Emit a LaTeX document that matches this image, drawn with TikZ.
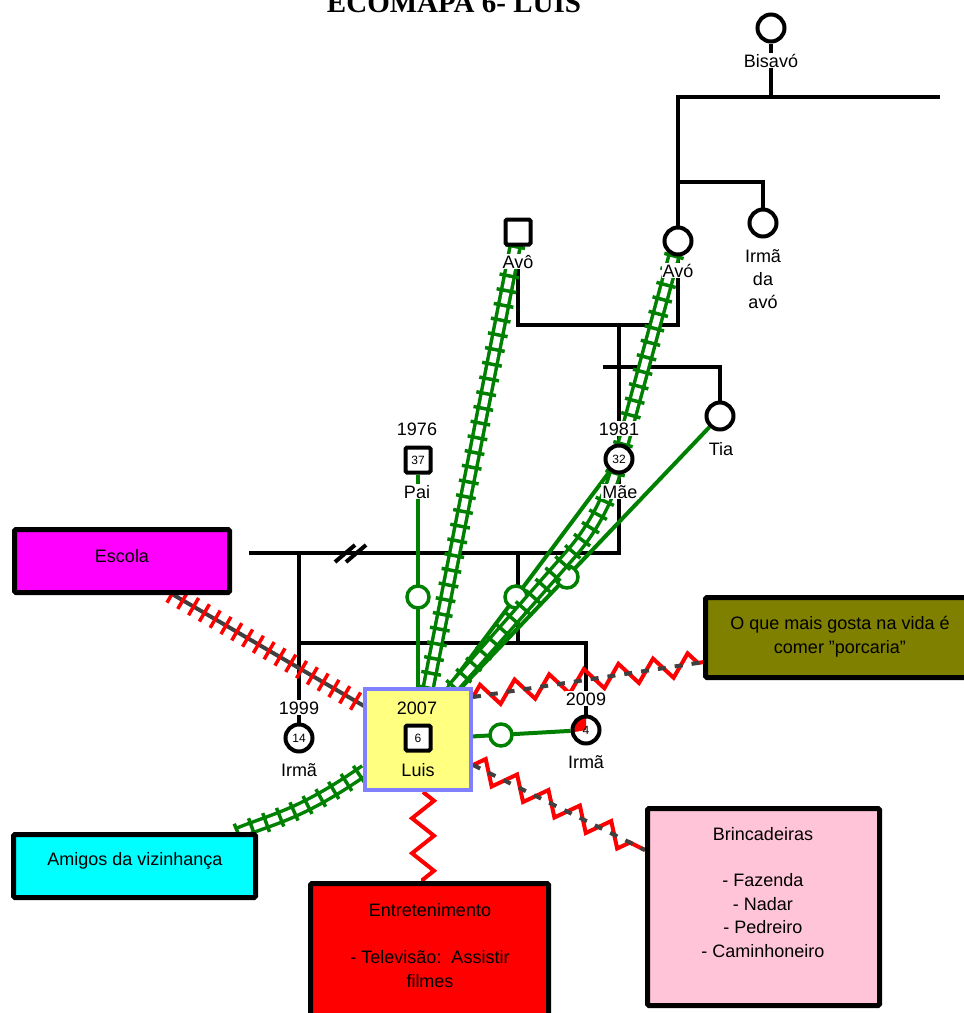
\documentclass[tikz,border=0pt]{standalone}
\usepackage{fontspec}
\setmainfont{Liberation Sans}
\newfontfamily\titlefont{Liberation Serif}
\usetikzlibrary{decorations.pathmorphing,decorations.pathreplacing}
\definecolor{grn}{RGB}{0,128,0}
\definecolor{dgray}{RGB}{64,64,64}
\definecolor{olivebox}{RGB}{128,128,0}
\definecolor{pinkbox}{RGB}{255,196,216}
\definecolor{magentabox}{RGB}{255,0,255}
\definecolor{cyanbox}{RGB}{0,255,255}
\definecolor{redbox}{RGB}{255,0,0}
\definecolor{luisfill}{RGB}{255,255,128}
\definecolor{luisedge}{RGB}{128,128,255}
\pgfdeclarelayer{kinlayer}
\pgfdeclarelayer{bondlayer}
\pgfsetlayers{kinlayer,bondlayer,main}
\begin{document}
\begin{tikzpicture}[x=1pt,y=-1pt,
  lbl/.style={font=\fontsize{18}{23}\selectfont, inner sep=1pt, fill=white, anchor=base, align=center},
  plain/.style={font=\fontsize{18}{23}\selectfont, inner sep=1pt, anchor=base, align=center},
  age/.style={font=\fontsize{12}{14}\selectfont},
  fem/.style={circle, draw, line width=4pt, minimum size=27pt, inner sep=0pt, fill=white, age},
  male/.style={rectangle, draw, line width=4pt, minimum size=25pt, inner sep=0pt, fill=white, rounded corners=1.5pt, age},
  kin/.style={line width=4pt, line join=miter},
  bond/.style={draw=grn, line width=4pt},
  ring/.style={circle, draw=grn, line width=3.5pt, minimum size=22pt, inner sep=0pt, fill=white},
  railway/.style={draw=grn, line width=3.5pt, double=white, double distance=6.5pt,
     postaction={draw=grn, line width=3.5pt, decorate, decoration={ticks, segment length=15pt, amplitude=10pt}}},
  tense/.style={draw=dgray, line width=4pt,
     postaction={draw=red, line width=3.5pt, decorate, decoration={ticks, segment length=12.5pt, amplitude=10pt}}},
  stress/.style={draw=red, line width=4pt, line join=miter, decorate, decoration={zigzag, segment length=35pt, amplitude=11pt}},
  dashline/.style={draw=dgray, line width=4pt, dash pattern=on 8pt off 9pt},
  box/.style={draw, line width=5pt, rounded corners=1.5pt, inner sep=0pt},
  boxtext/.style={font=\fontsize{18}{23.4}\selectfont, anchor=base, align=center, inner sep=0pt},
]
\useasboundingbox (0,0) rectangle (964,1013);

% title
\node[font=\titlefont\bfseries\fontsize{29}{32}\selectfont, anchor=base, inner sep=0pt] (title) at (454,12) {ECOMAPA 6- LUIS};

% ---------- genogram members ----------
\node[fem] (bisavo) at (771,28) {};
\node[male] (avo) at (518,232) {};
\node[fem] (avoa) at (678,241) {};
\node[fem] (irmavo) at (763,223) {};
\node[fem] (tia) at (720,416) {};
\node[male] (pai) at (418,460) {37};
\node[fem] (mae) at (619,459) {32};
\node[fem] (irma1) at (299,738) {14};
\node[fem, fill=white, path picture={\fill[red] (path picture bounding box.center) -- ++(0,-12) arc[start angle=-90, end angle=-190, radius=12] -- cycle;}] (irma2) at (586,730) {4};
\node[draw=luisedge, fill=luisfill, line width=4pt, minimum width=106pt, minimum height=101pt, inner sep=0pt] (luis) at (418,739.5) {};
\node[male] (luisq) at (418,738) {6};

% ---------- ecomap systems ----------
\node[box, fill=magentabox, minimum width=215pt, minimum height=63pt] (escola) at (122,561) {};
\node[box, fill=cyanbox, minimum width=242pt, minimum height=63pt] (amigos) at (134.5,866) {};
\node[box, fill=redbox, minimum width=238pt, minimum height=157pt] (entret) at (429.5,962) {};
\node[box, fill=pinkbox, minimum width=232pt, minimum height=197pt] (brinc) at (763.5,907) {};
\node[box, fill=olivebox, minimum width=275pt, minimum height=80pt] (gosta) at (843,637.5) {};

% multi-line texts are placed by the baseline of their last line
\node[boxtext] (escola-t) at (122,562) {Escola};
\node[boxtext] (amigos-t) at (135,865) {Amigos da vizinhança};
\node[boxtext] (entret-t) at (430,987) {Entretenimento\\[23.4pt]- Televisão:\ \ Assistir\\filmes};
\node[boxtext] (brinc-t) at (763,957) {Brincadeiras\\[23.4pt]- Fazenda\\- Nadar\\- Pedreiro\\- Caminhoneiro};
\node[boxtext] (gosta-t) at (840,653) {O que mais gosta na vida é\\comer "porcaria"};

% ---------- labels ----------
\node[lbl] (bisavo-l) at (771,67) {Bisavó};
\node[lbl] (avo-l) at (518,268) {Avô};
\node[lbl] (avoa-l) at (678,277) {Avó};
\node[lbl] (irmavo-l) at (763,308) {Irmã\\da\\avó};
\node[lbl] (tia-l) at (721,455) {Tia};
\node[lbl] (pai-y) at (417,435) {1976};
\node[lbl] (mae-y) at (619,435) {1981};
\node[lbl] (pai-l) at (417,498) {Pai};
\node[lbl] (mae-l) at (620,498) {Mãe};
\node[lbl] (irma1-y) at (299,714) {1999};
\node[lbl] (irma1-l) at (299,776) {Irmã};
\node[plain] (luis-y) at (417,714) {2007};
\node[plain] (luis-l) at (418,776) {Luis};
\node[lbl] (irma2-y) at (586,705) {2009};
\node[lbl] (irma2-l) at (586,768) {Irmã};

% ---------- family lines ----------
\begin{pgfonlayer}{kinlayer}
  \coordinate (bar-l) at (678,97);
  \coordinate (bar-r) at (940,97);
  \coordinate (bis-j) at (771,97);
  \draw[kin] (bisavo) -- (bis-j);
  \draw[kin] (bar-r) -- (bar-l) -- (avoa);
  \coordinate (sib-l) at (678,182);
  \coordinate (sib-r) at (763,182);
  \draw[kin] (sib-l) -- (sib-r) -- (irmavo);
  \coordinate (cp-l) at (518,325);
  \coordinate (cp-r) at (678,325);
  \draw[kin] (avo) -- (cp-l) -- (cp-r) -- (avoa);
  \coordinate (cp-c) at (619,325);
  \draw[kin] (cp-c) -- (mae);
  \coordinate (ts-l) at (603,367);
  \coordinate (ts-r) at (720,367);
  \draw[kin] (ts-l) -- (ts-r) -- (tia);
  \coordinate (mp-r) at (619,553);
  \coordinate (mp-l) at (249,553);
  \draw[kin] (mae) -- (mp-r) -- (mp-l);
  % separation mark
  \draw[kin] (335,562) -- (355,545) (346,562) -- (366,545);
  \coordinate (h1) at (299,553);
  \draw[kin] (h1) -- (irma1);
  \coordinate (k-top) at (518,553);
  \coordinate (k-mid) at (518,643);
  \draw[kin] (k-top) -- (k-mid);
  \coordinate (sl) at (299,643);
  \coordinate (sr) at (586,643);
  \draw[kin] (sl) -- (sr) -- (irma2);
\end{pgfonlayer}

% ---------- relationship lines ----------
\begin{pgfonlayer}{bondlayer}
  % conflictual / stressful links
  \coordinate (es-a) at (172,594);
  \coordinate (es-b) at (364,706);
  \draw[tense] (es-a) -- (es-b);
  \coordinate (z1a) at (473,697);
  \coordinate (z1b) at (704,662);
  \draw[stress] (z1a) -- (z1b);
  \draw[dashline] (z1a) -- (z1b);
  \coordinate (z2a) at (473,765);
  \coordinate (z2b) at (645,850);
  \draw[stress] (z2a) -- (z2b);
  \draw[dashline] (z2a) -- (z2b);
  \coordinate (z3a) at (423,792);
  \coordinate (z3b) at (423,884);
  \draw[stress] (z3a) -- (z3b);
  % normal links
  \coordinate (lm) at (447,689);
  \coordinate (lt) at (460,689);
  \draw[bond] (pai) -- (pai |- luis.north);
  \draw[bond] (mae) -- (lm);
  \draw[bond] (tia) -- (lt);
  \draw[bond] (luis) -- (irma2);
  \node[ring] (ring-pai) at (418,597) {};
  \node[ring] (ring-mae) at (516,597) {};
  \node[ring] (ring-tia) at (567,577) {};
  \node[ring] (ring-irma) at (501,735) {};
  % strong links
  \coordinate (la) at (428,689);
  \draw[railway] (avo) -- (la);
  \coordinate (ma-1) at (616,470);
  \coordinate (ma-2) at (608,500);
  \coordinate (ma-3) at (592,530);
  \coordinate (ma-4) at (570,555);
  \coordinate (lb) at (452,689);
  \draw[railway] (avoa) -- (ma-1) .. controls (ma-2) and (ma-3) .. (ma-4) -- (lb);
  \coordinate (am) at (238,833);
  \coordinate (am-1) at (275,818);
  \coordinate (am-2) at (300,815);
  \coordinate (lc) at (365,770);
  \draw[railway] (am) .. controls (am-1) and (am-2) .. (lc);
\end{pgfonlayer}
\end{tikzpicture}
\end{document}
